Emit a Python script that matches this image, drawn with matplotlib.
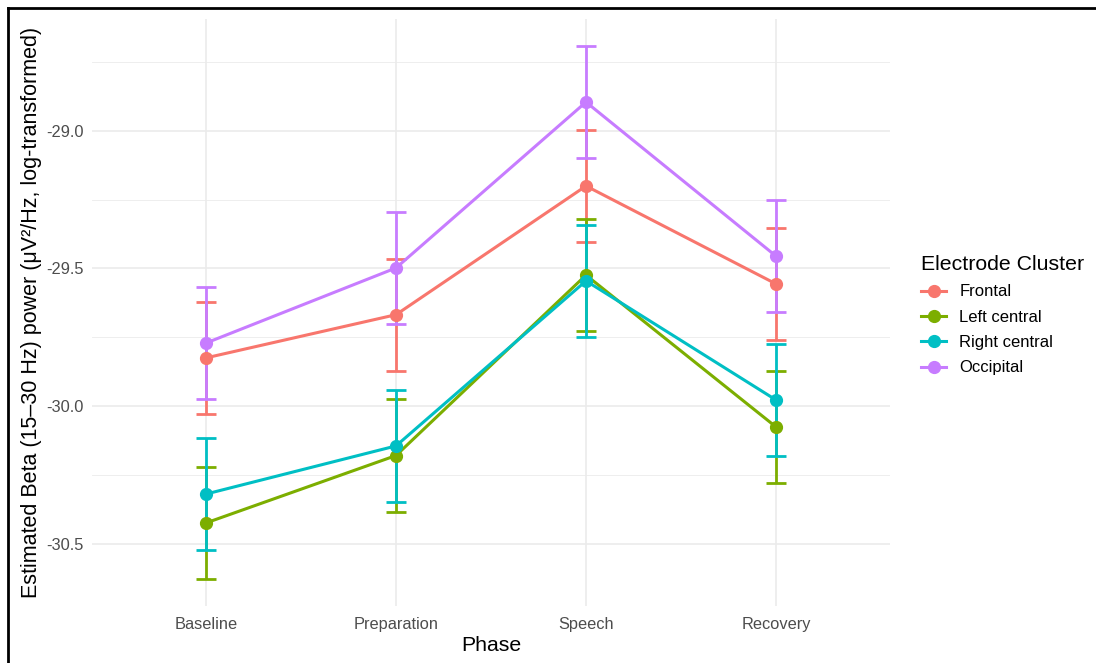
import numpy as np
import matplotlib.pyplot as plt
from matplotlib.lines import Line2D

# datos
fases = ["Baseline", "Preparation", "Speech", "Recovery"]
clusters = ["Frontal", "Left central", "Right central", "Occipital"]
colores = ["#F8766D", "#7CAE00", "#00BFC4", "#C77CFF"]

frontal = [-29.825, -29.668, -29.200, -29.556]
left_central = [-30.425, -30.180, -29.524, -30.076]
right_central = [-30.320, -30.145, -29.545, -29.978]
occipital = [-29.771, -29.498, -28.895, -29.455]
se = 0.204

series = [frontal, left_central, right_central, occipital]

plt.rcParams['font.family'] = ['Liberation Sans', 'DejaVu Sans']

fig = plt.figure(figsize=(10.96, 6.63), dpi=100)
W, H = 1096, 663
ax = fig.add_axes([92 / W, (H - 606) / H, (890 - 92) / W, (606 - 19) / H])

x = np.arange(1, len(fases) + 1)
for vals, col, nom in zip(series, colores, clusters):
    ax.errorbar(x, vals, yerr=se, fmt='none', ecolor=col, elinewidth=2,
                capsize=7.5, capthick=2, zorder=2)
for vals, col, nom in zip(series, colores, clusters):
    ax.plot(x, vals, color=col, lw=2.2, marker='o', ms=8.5, label=nom, zorder=3)

ax.set_xlim(0.4, 4.6)
ax.set_ylim(-30.727, -28.593)
ax.set_xticks(x)
ax.set_xticklabels(fases)
ax.set_yticks([-29.0, -29.5, -30.0, -30.5])
ax.set_yticklabels(["-29.0", "-29.5", "-30.0", "-30.5"])
ax.set_yticks([-28.75, -29.25, -29.75, -30.25], minor=True)
ax.grid(True, which='major', color='#EBEBEB', lw=1.2)
ax.grid(True, which='minor', axis='y', color='#EBEBEB', lw=0.6)
ax.set_axisbelow(True)
for s in ax.spines.values():
    s.set_visible(False)
ax.tick_params(which='both', length=0, labelsize=11.8, labelcolor='#4D4D4D')
ax.tick_params(axis='x', pad=8)
ax.tick_params(axis='y', pad=6)

ax.set_xlabel("Phase", fontsize=15.3, labelpad=3)
ax.set_ylabel("Estimated Beta (15\u201330 Hz) power (\u03bcV\u00b2/Hz, log-transformed)",
              fontsize=15.5, labelpad=3)

leg = ax.legend(title="Electrode Cluster", loc='upper left',
                bbox_to_anchor=(906 / W, (H - 240) / H), bbox_transform=fig.transFigure,
                frameon=False, fontsize=12, title_fontsize=15.3,
                handlelength=1.5, labelspacing=0.62, alignment='left')

# marco de la captura
fig.add_artist(Line2D([8 / W, 1.0], [(H - 8) / H, (H - 8) / H], color='black', lw=2))
fig.add_artist(Line2D([8 / W, 8 / W], [0, (H - 8) / H], color='black', lw=2))

fig.savefig("out.png", dpi=100)
